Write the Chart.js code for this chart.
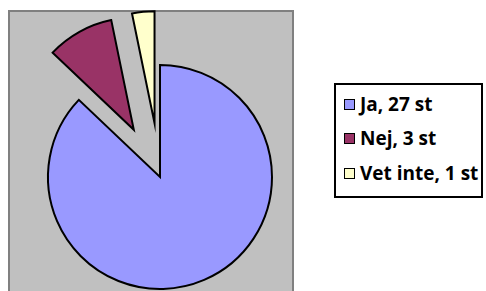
<!DOCTYPE html>
<html>
<head>
<meta charset="utf-8">
<script src="https://cdn.jsdelivr.net/npm/chart.js@4"></script>
<style>
  html, body { margin: 0; padding: 0; background: #fff; }
  #wrap { position: relative; width: 486px; height: 291px; overflow: hidden; }
  #c { position: absolute; left: 0; top: 0; }
  #legend {
    position: absolute; left: 334px; top: 83px; width: 145px; height: 111px;
    border: 2px solid #000; background: #fff;
    font-family: "Open Sans", "Liberation Sans", sans-serif; font-weight: bold; font-size: 19px;
    color: #000;
  }
  .row { position: absolute; left: 8px; height: 24px; display: flex; align-items: center; white-space: nowrap; }
  .sw { width: 9px; height: 9px; border: 1.5px solid #000; margin-right: 5px; flex: none; }
</style>
</head>
<body>
<div id="wrap">
  <canvas id="c" width="486" height="291"></canvas>
  <div id="legend"></div>
</div>
<script>
const categories = ["Ja, 27 st", "Nej, 3 st", "Vet inte, 1 st"];
const values = [27, 3, 1];
const colors = ["#9999FF", "#993366", "#FFFFCC"];
const explode = [0, 54, 54];   // explosion distance in px
const R = 112;

const plotBg = {
  id: 'plotBg',
  beforeDraw(chart) {
    const ctx = chart.ctx;
    ctx.save();
    ctx.fillStyle = '#C0C0C0';
    ctx.fillRect(9, 11, 284, 282);
    ctx.strokeStyle = '#808080';
    ctx.lineWidth = 2;
    ctx.strokeRect(9, 11, 284, 290);
    ctx.restore();
  }
};

// explode slices along their mid angle, keeping the same radius
const explodeSlices = {
  id: 'explodeSlices',
  afterDatasetsUpdate(chart) {
    const meta = chart.getDatasetMeta(0);
    meta.data.forEach((arc, i) => {
      const d = explode[i] || 0;
      const mid = (arc.startAngle + arc.endAngle) / 2;
      arc.x += Math.cos(mid) * d;
      arc.y += Math.sin(mid) * d;
    });
  }
};

new Chart(document.getElementById('c'), {
  type: 'pie',
  data: {
    labels: categories,
    datasets: [{
      data: values,
      backgroundColor: colors,
      borderColor: '#000',
      borderWidth: 2,
      borderJoinStyle: 'miter'
    }]
  },
  options: {
    responsive: false,
    animation: false,
    radius: R,
    layout: { padding: { left: 0, right: 166, top: 63, bottom: 0 } },
    plugins: { legend: { display: false }, tooltip: { enabled: false } }
  },
  plugins: [plotBg, explodeSlices]
});

const leg = document.getElementById('legend');
const rowTops = [7, 41, 76];
categories.forEach((c, i) => {
  const r = document.createElement('div');
  r.className = 'row';
  r.style.top = rowTops[i] + 'px';
  const s = document.createElement('span');
  s.className = 'sw';
  s.style.background = colors[i];
  const t = document.createElement('span');
  t.textContent = c;
  r.appendChild(s); r.appendChild(t);
  leg.appendChild(r);
});
</script>
</body>
</html>
